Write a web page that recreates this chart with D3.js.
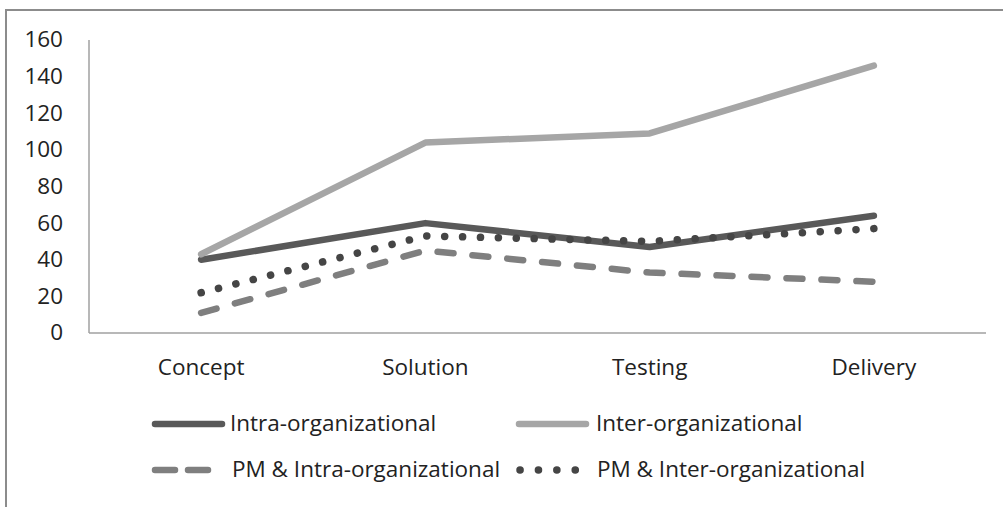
<!DOCTYPE html>
<meta charset="utf-8">
<style>
 body { margin: 0; background: white; }
 svg { display: block; font-family: 'Open Sans', sans-serif; }
</style>
<svg width="1003" height="507"></svg>
<script src="https://d3js.org/d3.v7.min.js"></script>
<script>
 var stages = ['Concept', 'Solution', 'Testing', 'Delivery'];
 var yTicks = [0, 20, 40, 60, 80, 100, 120, 140, 160];
 var intraOrg = [40, 60, 47, 64];
 var interOrg = [43, 104, 109, 146];
 var pmIntraOrg = [11, 45, 33, 28];
 var pmInterOrg = [22, 53, 50, 57];

 var series = [
     { name: 'Intra-organizational', values: intraOrg, color: '#595959', dash: null },
     { name: 'Inter-organizational', values: interOrg, color: '#a6a6a6', dash: null },
     { name: 'PM & Intra-organizational', values: pmIntraOrg, color: '#7f7f7f', dash: '16,19' },
     { name: 'PM & Inter-organizational', values: pmInterOrg, color: '#454545', dash: '0.1,17.8' }
 ];

 var fontSize = 22.5;
 var svg = d3.select('svg');

 // outer frame (only the top and left edges show)
 svg.append('rect')
     .attr('x', 6).attr('y', 10).attr('width', 1100).attr('height', 600)
     .attr('fill', 'none').attr('stroke', '#8c8c8c').attr('stroke-width', 2);

 var x = d3.scaleBand().domain(stages).range([89, 986]);
 var y = d3.scaleLinear().domain([0, 160]).range([333, 40]);

 // axes
 svg.append('line')
     .attr('x1', 89).attr('x2', 89).attr('y1', y(160)).attr('y2', y(0))
     .attr('stroke', '#a0a0a0').attr('stroke-width', 1.5);
 svg.append('line')
     .attr('x1', 89).attr('x2', 986).attr('y1', y(0)).attr('y2', y(0))
     .attr('stroke', '#a0a0a0').attr('stroke-width', 1.5);

 svg.selectAll('.ytick')
     .data(yTicks)
     .enter().append('text')
     .attr('x', 63)
     .attr('y', function(d) { return y(d); })
     .attr('dy', '0.33em')
     .attr('text-anchor', 'end')
     .attr('font-size', fontSize)
     .attr('fill', '#222')
     .text(function(d) { return d; });

 svg.selectAll('.xtick')
     .data(stages)
     .enter().append('text')
     .attr('x', function(d) { return x(d) + x.bandwidth() / 2; })
     .attr('y', 368)
     .attr('dy', '0.33em')
     .attr('text-anchor', 'middle')
     .attr('font-size', fontSize)
     .attr('fill', '#222')
     .text(function(d) { return d; });

 var line = d3.line()
     .x(function(d, i) { return x(stages[i]) + x.bandwidth() / 2; })
     .y(function(d) { return y(d); });

 function width(d) { return d.dash && d.dash.indexOf('0.1') === 0 ? 7.5 : 6.5; }

 svg.selectAll('.series')
     .data(series)
     .enter().append('path')
     .attr('d', function(d) { return line(d.values); })
     .attr('fill', 'none')
     .attr('stroke', function(d) { return d.color; })
     .attr('stroke-width', width)
     .attr('stroke-linecap', 'round')
     .attr('stroke-linejoin', 'round')
     .attr('stroke-dasharray', function(d) { return d.dash; });

 // legend
 var legendPos = [[152, 424], [516, 424], [152, 470], [517, 470]];
 var legendDash = [null, null, '20,13', '0.1,18.3'];
 var legend = svg.selectAll('.legend')
     .data(series)
     .enter().append('g')
     .attr('transform', function(d, i) { return 'translate(' + legendPos[i][0] + ',' + legendPos[i][1] + ')'; });
 legend.append('line')
     .attr('x1', 3).attr('x2', function(d) { return d.dash ? 62 : 70; })
     .attr('y1', 0).attr('y2', 0)
     .attr('stroke', function(d) { return d.color; })
     .attr('stroke-width', width)
     .attr('stroke-linecap', 'round')
     .attr('stroke-dasharray', function(d, i) { return legendDash[i]; });
 legend.append('text')
     .attr('x', function(d, i) { return i === 0 ? 78 : 80; })
     .attr('y', 0)
     .attr('dy', '0.33em')
     .attr('font-size', fontSize)
     .attr('fill', '#222')
     .text(function(d) { return d.name; });
</script>
